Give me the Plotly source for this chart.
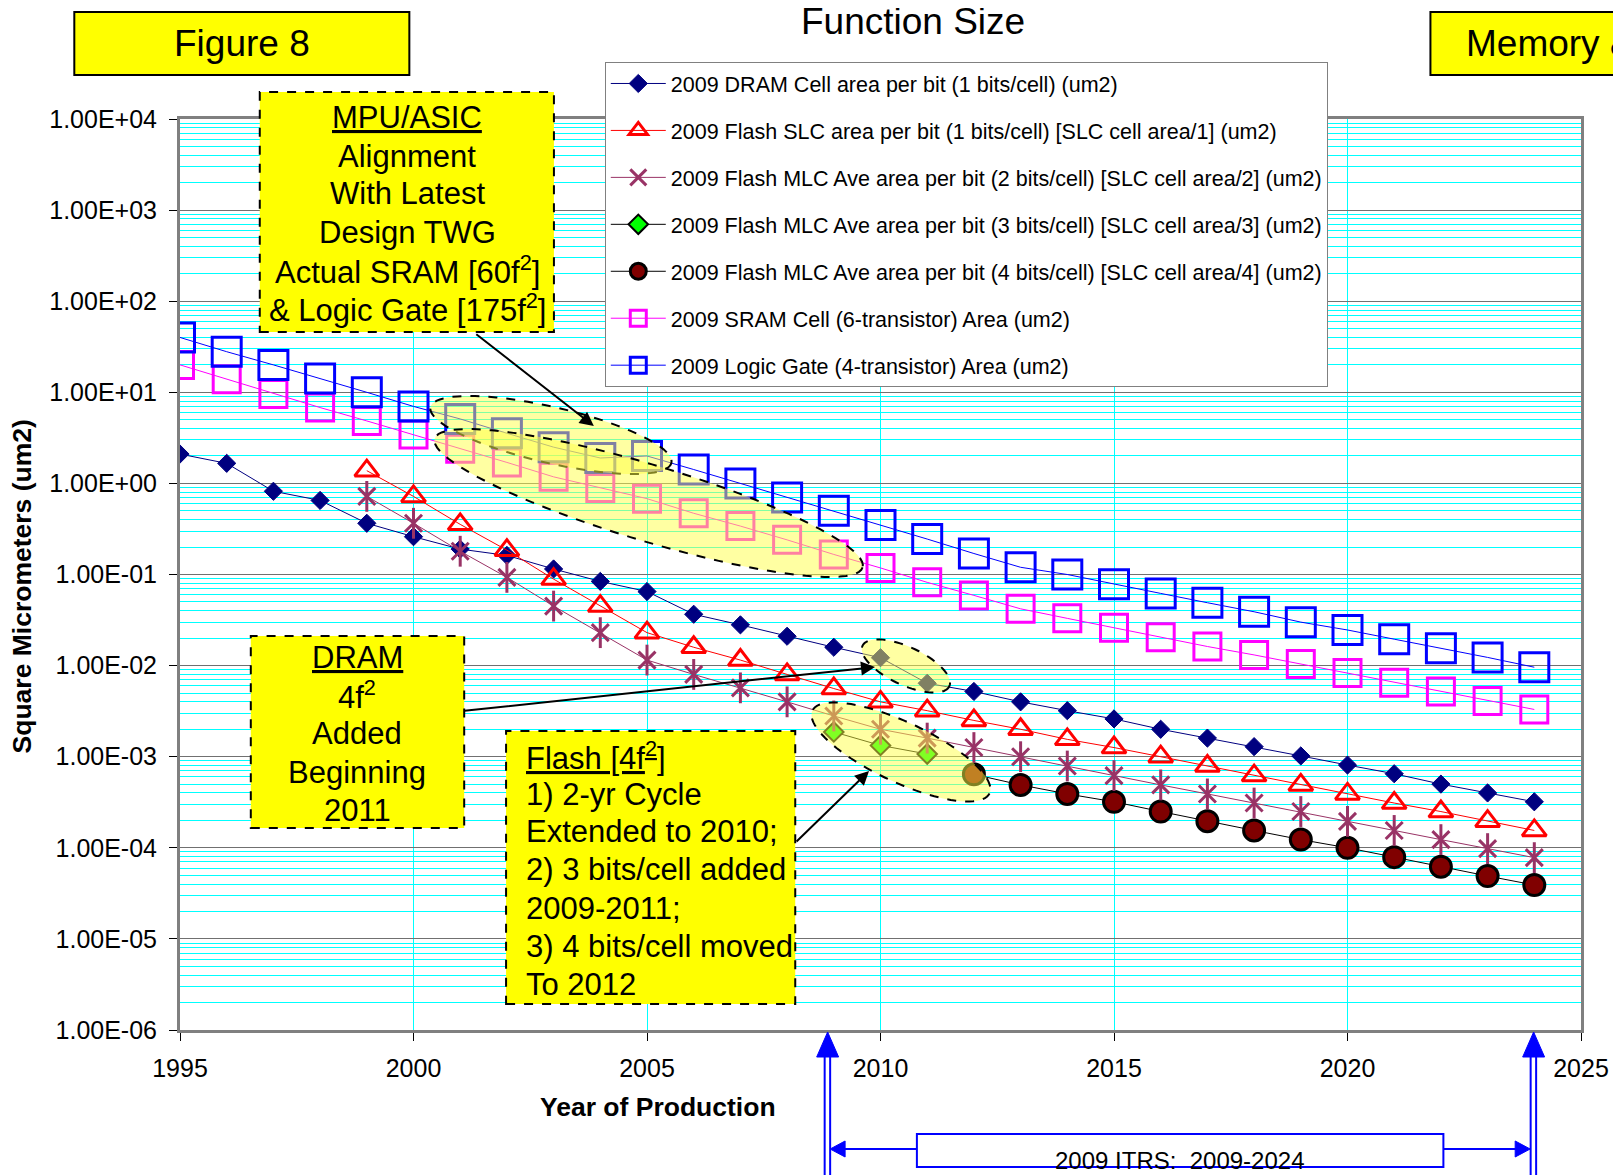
import math
import plotly.graph_objects as go

# ---------------- data ----------------
years_all = list(range(1995, 2025))
dram = [2.1, 1.66, 0.82, 0.65, 0.365, 0.26, 0.19, 0.162, 0.115, 0.084, 0.065, 0.0366,
        0.028, 0.021, 0.0159, 0.0122, 0.0064, 0.0052, 0.0040, 0.0032, 0.0026, 0.0020,
        0.0016, 0.00129, 0.00102, 0.00081, 0.00065, 0.00050, 0.00040, 0.00032]
years_flash = list(range(1999, 2025))
slc = [1.38, 0.72, 0.355, 0.185, 0.089, 0.045, 0.023, 0.0159, 0.0115, 0.0080, 0.0056,
       0.0040, 0.0032, 0.0025, 0.0020, 0.00155, 0.00126, 0.00100, 0.00079, 0.00062,
       0.00049, 0.00039, 0.00031, 0.00025, 0.000196, 0.000155]
mlc2 = [0.72, 0.365, 0.18, 0.093, 0.045, 0.023, 0.0115, 0.0080, 0.0057, 0.0040, 0.0028,
        0.0020, 0.0016, 0.00126, 0.00100, 0.00079, 0.00062, 0.00049, 0.00039, 0.00031,
        0.00025, 0.000195, 0.000155, 0.000123, 0.000098, 0.000078]
years_mlc3 = [2009, 2010, 2011]
mlc3 = [0.00187, 0.00133, 0.00107]
years_mlc4 = list(range(2012, 2025))
mlc4 = [6.4e-4, 4.9e-4, 3.9e-4, 3.2e-4, 2.5e-4, 1.96e-4, 1.55e-4, 1.23e-4, 1.0e-4,
        7.9e-5, 6.2e-5, 4.9e-5, 3.9e-5]
sram = [20, 13.9, 9.6, 6.8, 4.85, 3.44, 2.4, 1.7, 1.18, 0.89, 0.68, 0.47, 0.34, 0.24,
        0.166, 0.118, 0.082, 0.059, 0.042, 0.033, 0.026, 0.0205, 0.0162, 0.0131, 0.0104,
        0.0083, 0.0065, 0.0052, 0.0041, 0.0033]
logic = [40, 27.9, 20, 14.2, 10, 7.0, 5.1, 3.55, 2.5, 1.9, 2.0, 1.42, 1.0, 0.70, 0.50,
         0.35, 0.245, 0.17, 0.12, 0.10, 0.078, 0.062, 0.049, 0.039, 0.030, 0.0246,
         0.0195, 0.0155, 0.0123, 0.0096]

names = [
    "2009 DRAM Cell area per bit (1 bits/cell) (um2)",
    "2009 Flash SLC area per bit (1 bits/cell) [SLC cell area/1] (um2)",
    "2009 Flash MLC Ave area per bit (2 bits/cell) [SLC cell area/2] (um2)",
    "2009 Flash MLC Ave area per bit (3 bits/cell) [SLC cell area/3] (um2)",
    "2009 Flash MLC Ave area per bit (4 bits/cell) [SLC cell area/4] (um2)",
    "2009 SRAM Cell (6-transistor) Area (um2)",
    "2009 Logic Gate (4-transistor) Area (um2)",
]
ytick_vals = [1e-6, 1e-5, 1e-4, 1e-3, 1e-2, 1e-1, 1, 10, 100, 1000, 10000]
ytick_text = ["1.00E-06", "1.00E-05", "1.00E-04", "1.00E-03", "1.00E-02", "1.00E-01",
              "1.00E+00", "1.00E+01", "1.00E+02", "1.00E+03", "1.00E+04"]
xtick_vals = [1995, 2000, 2005, 2010, 2015, 2020, 2025]

FONT = "Liberation Sans, Arial, sans-serif"
OFF = 8                      # page body margin of the html page
W, H = 1621 - OFF, 1175 - OFF
L, R, T, B = 180, 1585, 119, 1030   # plot area in page pixels


def px(x):
    return (x - L) / (R - L)


def py(y):
    return (B - y) / (B - T)


def ellipse_path(cx, cy, a, b, ang, n=90):
    t = math.radians(ang)
    pts = []
    for i in range(n):
        u = 2 * math.pi * i / n
        x = cx + a * math.cos(u) * math.cos(t) - b * math.sin(u) * math.sin(t)
        y = cy + a * math.cos(u) * math.sin(t) + b * math.sin(u) * math.cos(t)
        pts.append((px(x), py(y)))
    return "M " + " L ".join(f"{x:.5f},{y:.5f}" for x, y in pts) + " Z"


def poly_path(pts):
    return "M " + " L ".join(f"{px(x):.5f},{py(y):.5f}" for x, y in pts) + " Z"


fig = go.Figure()

fig.add_trace(go.Scatter(x=years_all, y=dram, name=names[0], mode="lines+markers",
                         line=dict(color="#000080", width=1),
                         marker=dict(symbol="diamond", size=14, color="#000080",
                                     line=dict(color="#000080", width=1)),
                         legendgroup="g0"))
fig.add_trace(go.Scatter(x=years_flash, y=slc, name=names[1], mode="lines+markers",
                         line=dict(color="#FF0000", width=1),
                         marker=dict(symbol="triangle-up-open", size=21, color="#FF0000",
                                     line=dict(color="#FF0000", width=3)),
                         legendgroup="g1"))
fig.add_trace(go.Scatter(x=years_flash, y=mlc2, name=names[2], mode="lines+markers",
                         line=dict(color="#993366", width=1),
                         marker=dict(symbol="x-thin-open", size=17, color="#993366",
                                     line=dict(color="#993366", width=3)),
                         legendgroup="g2"))
fig.add_trace(go.Scatter(x=years_mlc3, y=mlc3, name=names[3], mode="lines+markers",
                         line=dict(color="#000000", width=1),
                         marker=dict(symbol="diamond", size=15, color="#00FF00",
                                     line=dict(color="#000000", width=2)),
                         legendgroup="g3"))
fig.add_trace(go.Scatter(x=years_mlc4, y=mlc4, name=names[4], mode="lines+markers",
                         line=dict(color="#000000", width=1),
                         marker=dict(symbol="circle", size=21, color="#800000",
                                     line=dict(color="#000000", width=3)),
                         legendgroup="g4"))
fig.add_trace(go.Scatter(x=years_all, y=sram, name=names[5], mode="lines+markers",
                         line=dict(color="#FF00FF", width=1),
                         marker=dict(symbol="square-open", size=27, color="#FF00FF",
                                     line=dict(color="#FF00FF", width=3)),
                         legendgroup="g5"))
fig.add_trace(go.Scatter(x=years_all, y=logic, name=names[6], mode="lines+markers",
                         line=dict(color="#0000FF", width=1),
                         marker=dict(symbol="square-open", size=29, color="#0000FF",
                                     line=dict(color="#0000FF", width=3)),
                         legendgroup="g6"))
# vertical stroke of the star marker
fig.add_trace(go.Scatter(x=years_flash, y=mlc2, mode="markers", showlegend=False,
                         marker=dict(symbol="line-ns-open", size=22, color="#993366",
                                     line=dict(color="#993366", width=3)),
                         legendgroup="g2", hoverinfo="skip"))

minor_vals = [k * 10 ** e for e in range(-6, 4) for k in range(2, 10)]

fig.update_layout(
    width=W, height=H,
    margin=dict(l=L - OFF, r=W - (R - OFF), t=T - OFF, b=H - (B - OFF), pad=0),
    paper_bgcolor="white", plot_bgcolor="white",
    font=dict(family=FONT, size=22, color="black"),
    showlegend=True,
    legend=dict(x=px(606), y=py(62), xanchor="left", yanchor="top",
                bgcolor="white", bordercolor="#808080", borderwidth=1,
                font=dict(size=21.5, family=FONT), itemwidth=55,
                tracegroupgap=16),
    xaxis=dict(range=[1995, 2025], tickvals=xtick_vals, ticks="outside", ticklen=8,
               tickcolor="black", showgrid=True, gridcolor="#00FFFF", gridwidth=1,
               showline=True, linecolor="#808080", linewidth=3, mirror=True,
               zeroline=False, ticklabelstandoff=6,
               tickfont=dict(size=25, family=FONT)),
    yaxis=dict(type="log", range=[-6, 4], tickvals=ytick_vals, ticktext=ytick_text,
               ticks="outside", ticklen=8, tickcolor="black", showgrid=True,
               gridcolor="#707070", gridwidth=1,
               minor=dict(tickmode="array", tickvals=minor_vals, showgrid=True,
                          gridcolor="#00FFFF", gridwidth=1, ticks=""),
               showline=True, linecolor="#808080", linewidth=3, mirror=True,
               zeroline=False, ticklabelstandoff=7,
               tickfont=dict(size=25, family=FONT)),
)

shapes = []
annos = []

# ----- yellow highlight ellipses -----
ell_fill = "rgba(255,255,70,0.5)"
for (cx, cy, a, b, ang) in [(552, 435, 124, 28, 13.0),
                            (650, 503, 224, 38, 16.7),
                            (908, 666, 48, 19, 25.0),
                            (903, 752, 98, 30, 25.0)]:
    shapes.append(dict(type="path", xref="paper", yref="paper",
                       path=ellipse_path(cx, cy, a, b, ang), fillcolor=ell_fill,
                       line=dict(color="black", width=2, dash="dash"), layer="above"))


# ----- text boxes -----
def box(x0, y0, x1, y1, dash="solid", color="black", fill="#FFFF00", width=2):
    shapes.append(dict(type="rect", xref="paper", yref="paper",
                       x0=px(x0), x1=px(x1), y0=py(y1), y1=py(y0),
                       fillcolor=fill, line=dict(color=color, width=width, dash=dash),
                       layer="above"))


box(74, 12, 410, 75)
box(1434, 12, 1700, 75)
box(260, 92, 555, 332, dash="dash")
box(251, 636, 465, 828, dash="dash")
box(507, 731, 797, 1004, dash="dash")


def text(x, y, s, size, xanchor="center", yanchor="middle", align="center", **kw):
    annos.append(dict(x=px(x), y=py(y), xref="paper", yref="paper", text=s,
                      showarrow=False, xanchor=xanchor, yanchor=yanchor, align=align,
                      font=dict(size=size, family=FONT, color="black"), **kw))


def lines(x, ys, texts, size, xanchor="center"):
    for y, s in zip(ys, texts):
        text(x, y, s, size, xanchor=xanchor, align=xanchor if xanchor != "center" else "center")


text(915, 22, "Function Size", 37)
text(242, 44, "Figure 8", 37)
text(1468, 44, "Memory &amp; Logic", 37, xanchor="left")

lines(408, [118, 156, 194, 232, 270, 308],
      ["<u>MPU/ASIC</u>", "Alignment", "With Latest", "Design TWG",
       "Actual SRAM [60f<sup>2</sup>]", "&amp; Logic Gate [175f<sup>2</sup>]"], 31)
lines(358, [657, 695, 733, 772, 810],
      ["<u>DRAM</u>", "4f<sup>2</sup>", "Added", "Beginning", "2011"], 31)
lines(525, [756, 794, 831, 869, 908, 946, 984],
      ["<u>Flash [4f<sup>2</sup>]</u>", "1) 2-yr Cycle", "Extended to 2010;",
       "2) 3 bits/cell added", "2009-2011;", "3) 4 bits/cell moved", "To 2012"],
      31, xanchor="left")

# axis titles
text(659, 1107, "<b>Year of Production</b>", 26.5)
text(22, 586, "<b>Square Micrometers (um2)</b>", 26.5, textangle=-90)


# ----- black arrows -----
def arrow(tx, ty, hx, hy, color="black", width=2, head=2, size=1.4):
    annos.append(dict(x=px(hx), y=py(hy), xref="paper", yref="paper", text="",
                      showarrow=True, ax=tx - hx, ay=ty - hy, axref="pixel", ayref="pixel",
                      arrowhead=head, arrowsize=size, arrowwidth=width, arrowcolor=color,
                      standoff=0, startstandoff=0))


arrow(476, 333, 595, 426)
arrow(465, 711, 877, 667)
arrow(797, 843, 871, 771)

# ----- ITRS range markers (blue) -----
BLUE = "#0000FF"
for xc in (829.5, 1537.5):
    for dx in (-3, 2.5):
        shapes.append(dict(type="line", xref="paper", yref="paper",
                           x0=px(xc + dx), x1=px(xc + dx), y0=py(1050), y1=py(1180),
                           line=dict(color=BLUE, width=2)))
    shapes.append(dict(type="path", xref="paper", yref="paper",
                       path=poly_path([(xc - 11, 1057), (xc + 11, 1057), (xc, 1032)]),
                       fillcolor=BLUE, line=dict(color=BLUE, width=1)))
# horizontal double arrow
shapes.append(dict(type="line", xref="paper", yref="paper",
                   x0=px(840), x1=px(1528), y0=py(1149), y1=py(1149),
                   line=dict(color=BLUE, width=2)))
shapes.append(dict(type="path", xref="paper", yref="paper",
                   path=poly_path([(832, 1149), (847, 1141), (847, 1157)]),
                   fillcolor=BLUE, line=dict(color=BLUE, width=1)))
shapes.append(dict(type="path", xref="paper", yref="paper",
                   path=poly_path([(1534, 1149), (1519, 1141), (1519, 1157)]),
                   fillcolor=BLUE, line=dict(color=BLUE, width=1)))
box(919, 1134, 1447, 1167, color=BLUE, fill="white", width=2)
text(1183, 1160, "2009 ITRS:  2009-2024", 24)

fig.update_layout(shapes=shapes, annotations=annos)
fig.write_html("out.html")
